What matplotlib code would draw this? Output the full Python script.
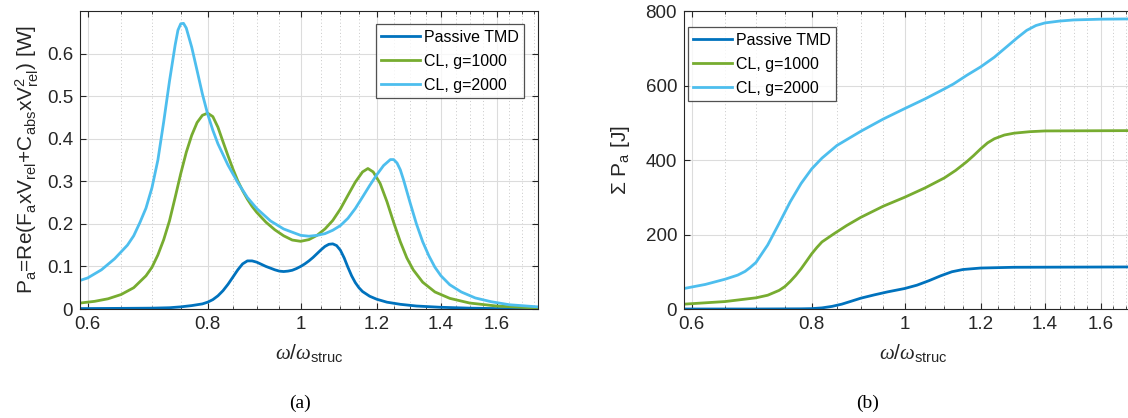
import numpy as np
import matplotlib
matplotlib.use("Agg")
import matplotlib.pyplot as plt
from matplotlib.ticker import FixedLocator, NullFormatter, FixedFormatter

plt.rcParams["font.family"] = ["Liberation Sans", "DejaVu Sans"]
plt.rcParams["mathtext.fontset"] = "custom"
plt.rcParams["mathtext.rm"] = "Liberation Sans"
plt.rcParams["mathtext.it"] = "Liberation Serif:italic"
plt.rcParams["mathtext.default"] = "regular"

# ---- data (omega / omega_struc) ----
labels = ["Passive TMD", "CL, g=1000", "CL, g=2000"]
colors = ["#0072BD", "#77AC30", "#4DBEEE"]

# (a) absorbed power [W]
w_tmd = [0.589, 0.65, 0.70, 0.73, 0.75, 0.77, 0.79, 0.80, 0.81, 0.82, 0.83,
         0.84, 0.85, 0.86, 0.87, 0.88, 0.89, 0.90, 0.91, 0.92, 0.93, 0.94,
         0.95, 0.96, 0.97, 0.98, 0.99, 1.00, 1.01, 1.02, 1.03, 1.04, 1.05,
         1.06, 1.07, 1.08, 1.09, 1.10, 1.11, 1.12, 1.13, 1.14, 1.15, 1.16,
         1.18, 1.20, 1.23, 1.27, 1.32, 1.40, 1.50, 1.60, 1.767]
p_tmd = [0.001, 0.0015, 0.002, 0.003, 0.005, 0.008, 0.012, 0.016, 0.022,
         0.031, 0.043, 0.058, 0.075, 0.092, 0.106, 0.113, 0.113, 0.110, 0.105,
         0.100, 0.096, 0.092, 0.089, 0.088, 0.089, 0.091, 0.095, 0.100, 0.106,
         0.113, 0.121, 0.130, 0.139, 0.147, 0.152, 0.153, 0.149, 0.138, 0.120,
         0.098, 0.078, 0.062, 0.050, 0.041, 0.030, 0.023, 0.016, 0.011, 0.007,
         0.004, 0.002, 0.001, 0.0005]

w_g1 = [0.589, 0.61, 0.63, 0.65, 0.67, 0.69, 0.70, 0.71, 0.72, 0.73, 0.74,
        0.75, 0.76, 0.77, 0.78, 0.79, 0.80, 0.81, 0.82, 0.83, 0.84, 0.85,
        0.86, 0.87, 0.88, 0.89, 0.90, 0.92, 0.94, 0.96, 0.98, 1.00, 1.02,
        1.04, 1.06, 1.08, 1.10, 1.12, 1.14, 1.16, 1.175, 1.19, 1.21, 1.23,
        1.25, 1.27, 1.29, 1.31, 1.34, 1.38, 1.43, 1.50, 1.60, 1.767]
p_g1 = [0.014, 0.018, 0.024, 0.034, 0.050, 0.078, 0.098, 0.127, 0.163, 0.207,
        0.262, 0.318, 0.368, 0.408, 0.438, 0.455, 0.460, 0.452, 0.427, 0.393,
        0.360, 0.329, 0.301, 0.278, 0.258, 0.241, 0.227, 0.204, 0.186, 0.172,
        0.162, 0.159, 0.163, 0.173, 0.188, 0.208, 0.235, 0.267, 0.298, 0.322,
        0.330, 0.322, 0.295, 0.252, 0.203, 0.158, 0.120, 0.092, 0.063, 0.040,
        0.025, 0.014, 0.007, 0.002]

w_g2 = [0.589, 0.60, 0.62, 0.64, 0.66, 0.67, 0.68, 0.69, 0.70, 0.71, 0.72,
        0.73, 0.74, 0.745, 0.75, 0.755, 0.76, 0.77, 0.78, 0.79, 0.80, 0.81,
        0.82, 0.84, 0.86, 0.88, 0.90, 0.93, 0.96, 1.00, 1.02, 1.04, 1.06,
        1.08, 1.10, 1.12, 1.14, 1.16, 1.18, 1.20, 1.22, 1.24, 1.25, 1.26,
        1.27, 1.28, 1.30, 1.32, 1.34, 1.36, 1.38, 1.40, 1.43, 1.47, 1.52,
        1.58, 1.65, 1.767]
p_g2 = [0.067, 0.073, 0.092, 0.118, 0.150, 0.172, 0.203, 0.237, 0.285, 0.350,
        0.440, 0.535, 0.620, 0.655, 0.670, 0.671, 0.660, 0.615, 0.560, 0.505,
        0.458, 0.420, 0.388, 0.338, 0.297, 0.262, 0.236, 0.207, 0.188, 0.173,
        0.171, 0.173, 0.177, 0.185, 0.196, 0.213, 0.236, 0.263, 0.290, 0.315,
        0.337, 0.351, 0.351, 0.343, 0.327, 0.303, 0.250, 0.200, 0.158, 0.125,
        0.098, 0.078, 0.057, 0.040, 0.026, 0.017, 0.010, 0.005]

# (b) cumulative absorbed energy [J]
wc_tmd = [0.589, 0.70, 0.78, 0.80, 0.82, 0.84, 0.86, 0.88, 0.90, 0.93, 0.96,
          1.00, 1.03, 1.06, 1.09, 1.12, 1.15, 1.20, 1.30, 1.767]
e_tmd = [0, 0, 0.5, 1, 3, 7, 13, 21, 29, 38, 46, 55, 64, 76, 89, 100, 106,
         110, 112, 113]

wc_g1 = [0.589, 0.65, 0.70, 0.72, 0.74, 0.75, 0.76, 0.77, 0.78, 0.79, 0.80,
         0.81, 0.82, 0.844, 0.87, 0.90, 0.95, 1.00, 1.05, 1.10, 1.13, 1.16,
         1.18, 1.20, 1.22, 1.24, 1.27, 1.30, 1.35, 1.40, 1.767]
e_g1 = [13, 20, 30, 37, 50, 60, 74, 90, 108, 128, 148, 165, 180, 202, 224,
        246, 276, 300, 325, 352, 372, 395, 412, 430, 446, 457, 467, 472, 476,
        478, 479]

wc_g2 = [0.589, 0.62, 0.65, 0.67, 0.682, 0.69, 0.70, 0.72, 0.74, 0.76, 0.78,
         0.80, 0.82, 0.85, 0.90, 0.95, 1.00, 1.05, 1.10, 1.124, 1.16, 1.20,
         1.24, 1.28, 1.31, 1.34, 1.37, 1.40, 1.45, 1.50, 1.60, 1.767]
e_g2 = [55, 66, 80, 91, 101, 111, 125, 172, 230, 288, 337, 376, 405, 439,
        477, 510, 538, 564, 591, 604, 627, 650, 676, 706, 728, 748, 761, 768,
        773, 776, 778, 779]

xticks = [0.6, 0.8, 1.0, 1.2, 1.4, 1.6]
xticklabels = ["0.6", "0.8", "1", "1.2", "1.4", "1.6"]
xminor = np.arange(0.6, 1.76, 0.05)

fig = plt.figure(figsize=(11.28, 4.18), dpi=100)
W, H = 1128, 418
axa = fig.add_axes([80 / W, 1 - 309 / H, 458 / W, 298 / H])
axb = fig.add_axes([684 / W, 1 - 309 / H, 458 / W, 298 / H])

ink = "#262626"


def style(ax):
    ax.set_xscale("log")
    ax.set_xlim(0.589, 1.767)
    ax.xaxis.set_major_locator(FixedLocator(xticks))
    ax.xaxis.set_major_formatter(FixedFormatter(xticklabels))
    ax.xaxis.set_minor_locator(FixedLocator(xminor))
    ax.xaxis.set_minor_formatter(NullFormatter())
    ax.grid(True, which="major", color="#dcdcdc", lw=0.8)
    ax.grid(True, which="minor", axis="x", color="#c8c8c8", lw=0.7, ls=(0, (1, 2.5)))
    ax.set_axisbelow(True)
    ax.tick_params(which="both", direction="in", top=True, right=True,
                   colors=ink, labelsize=13.5)
    ax.tick_params(which="major", length=4.5, width=0.8, pad=5)
    ax.tick_params(which="minor", length=2.5, width=0.6)
    for s in ax.spines.values():
        s.set_color(ink)
        s.set_linewidth(0.8)
    ax.set_xlabel(r"$\mathit{\omega}/\mathit{\omega}_{struc}$", fontsize=15,
                  color=ink, labelpad=7)


def add_legend(ax, **kw):
    leg = ax.legend(fontsize=11.5, frameon=True, fancybox=False,
                    edgecolor=ink, handlelength=2.4, handletextpad=0.25,
                    borderpad=0.35, labelspacing=0.55, borderaxespad=0, **kw)
    leg.get_frame().set_linewidth(0.9)
    return leg


for ax in (axa, axb):
    style(ax)

axa.plot(w_tmd, p_tmd, color=colors[0], lw=2, label=labels[0])
axa.plot(w_g1, p_g1, color=colors[1], lw=2, label=labels[1])
axa.plot(w_g2, p_g2, color=colors[2], lw=2, label=labels[2])
axa.set_ylim(0, 0.7)
axa.set_yticks([0, 0.1, 0.2, 0.3, 0.4, 0.5, 0.6])
axa.set_yticklabels(["0", "0.1", "0.2", "0.3", "0.4", "0.5", "0.6"])
axa.set_ylabel(r"P$_a$=Re(F$_a$xV$_{rel}$+C$_{abs}$xV$^2_{rel}$) [W]",
               fontsize=15, color=ink, labelpad=4)
add_legend(axa, loc="upper right", bbox_to_anchor=(0.970, 0.955))

axb.plot(wc_tmd, e_tmd, color=colors[0], lw=2, label=labels[0])
axb.plot(wc_g1, e_g1, color=colors[1], lw=2, label=labels[1])
axb.plot(wc_g2, e_g2, color=colors[2], lw=2, label=labels[2])
axb.set_ylim(0, 800)
axb.set_yticks([0, 200, 400, 600, 800])
axb.set_ylabel(r"$\Sigma$ P$_a$ [J]", fontsize=15, color=ink, labelpad=10)
add_legend(axb, loc="upper left", bbox_to_anchor=(0.008, 0.945))

fig.text(300 / W, 1 - 403 / H, "(a)", ha="center", va="center",
         family="Liberation Serif", fontsize=14)
fig.text(868 / W, 1 - 403 / H, "(b)", ha="center", va="center",
         family="Liberation Serif", fontsize=14)

fig.savefig("out.png", dpi=100)
